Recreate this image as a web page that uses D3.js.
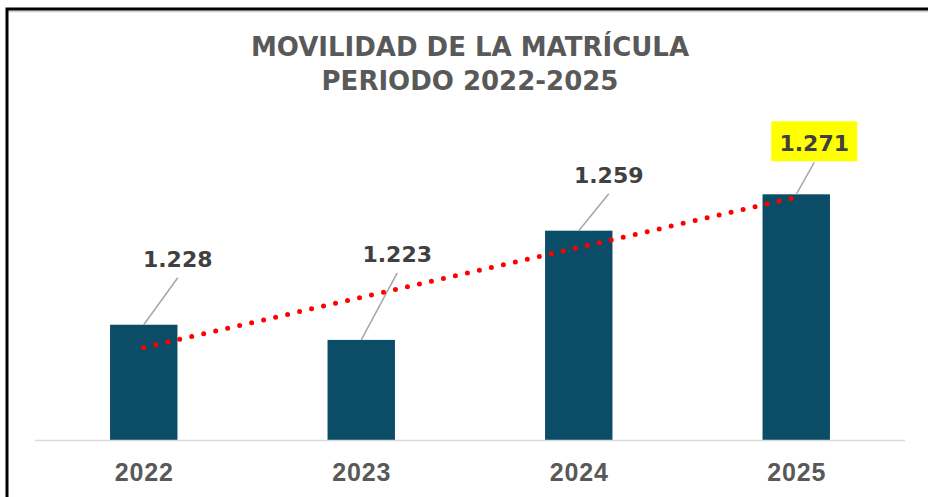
<!DOCTYPE html>
<html>
<head>
<meta charset="utf-8">
<script src="https://cdn.jsdelivr.net/npm/d3@7"></script>
<style>
  body { margin: 0; background: #fff; }
  text { font-family: "Liberation Sans", Arial, sans-serif; font-weight: bold; }
  text.wide { font-family: "DejaVu Sans", Verdana, sans-serif; }
</style>
</head>
<body>
<div id="chartCt"></div>
<script>
// data
const years = ["2022", "2023", "2024", "2025"];
const values = [1228, 1223, 1259, 1271];
const valueLabels = ["1.228", "1.223", "1.259", "1.271"];
const titleLines = ["MOVILIDAD DE LA MATRÍCULA", "PERIODO 2022-2025"];
const highlightYear = "2025";

// label placement, offset from top of each bar (dragged by hand in the original)
const labelOffsets = [[34, -58], [36, -78], [30, -48], [18, -43]];

const width = 928, height = 497;

const svg = d3.select("#chartCt")
    .append("svg")
    .attr("width", width)
    .attr("height", height);

svg.append("rect").attr("width", width).attr("height", height).attr("fill", "#fff");

// frame (only left and top sides are in view)
svg.append("path")
    .attr("d", "M8,11.5H928")
    .attr("stroke", "#d0d0d0")
    .attr("stroke-width", 1.5)
    .attr("fill", "none");
svg.append("path")
    .attr("d", `M7,${height}V9H${width}`)
    .attr("stroke", "#000")
    .attr("stroke-width", 3)
    .attr("fill", "none");

const x = d3.scalePoint()
    .domain(years)
    .range([35, 905])
    .padding(0.5);

const y = d3.scaleLinear()
    .domain([1190, 1280])
    .range([440, 167]);

const barW = x.step() * 0.31;

// title
svg.selectAll("text.title")
    .data(titleLines)
    .enter().append("text")
    .attr("class", "title wide")
    .attr("x", 470)
    .attr("y", (d, i) => 56 + i * 34)
    .attr("text-anchor", "middle")
    .attr("fill", "#595959")
    .style("font-size", "26px")
    .text(d => d);

// bars
svg.selectAll("rect.bar")
    .data(years)
    .enter().append("rect")
    .attr("class", "bar")
    .attr("x", d => x(d) - barW / 2)
    .attr("y", (d, i) => y(values[i]))
    .attr("width", barW)
    .attr("height", (d, i) => y(1190) - y(values[i]))
    .attr("fill", "#0b4d66");

// category axis
svg.append("line")
    .attr("x1", 35).attr("x2", 905)
    .attr("y1", 440.5).attr("y2", 440.5)
    .attr("stroke", "#d9d9d9")
    .attr("stroke-width", 1.5);

svg.selectAll("text.year")
    .data(years)
    .enter().append("text")
    .attr("class", "year")
    .attr("x", d => x(d) + 0.5)
    .attr("y", 481)
    .attr("text-anchor", "middle")
    .attr("fill", "#595959")
    .style("font-size", "25px")
    .style("letter-spacing", "0.8px")
    .text(d => d);

// linear trend line
const idx = values.map((v, i) => i + 1);
const mx = d3.mean(idx), my = d3.mean(values);
const slope = d3.sum(idx, (t, i) => (t - mx) * (values[i] - my)) / d3.sum(idx, t => (t - mx) * (t - mx));
const icpt = my - slope * mx;
const trend = idx.map((t, i) => [x(years[i]), y(icpt + slope * t)]);

// value labels with leader lines
const labels = svg.selectAll("g.lbl")
    .data(years)
    .enter().append("g")
    .attr("class", "lbl");

labels.each(function (d, i) {
    const g = d3.select(this);
    const bx = x(d), by = y(values[i]);
    const lx = bx + labelOffsets[i][0], ly = by + labelOffsets[i][1];
    if (d === highlightYear) {
        g.append("rect")
            .attr("x", lx - 43).attr("y", ly - 30)
            .attr("width", 86).attr("height", 40)
            .attr("fill", "#ffff00");
    }
    g.append("line")
        .attr("x1", lx).attr("y1", ly + 11)
        .attr("x2", bx).attr("y2", by)
        .attr("stroke", "#a6a6a6")
        .attr("stroke-width", 1.5);
    g.append("text")
        .attr("class", "wide")
        .attr("x", lx).attr("y", ly)
        .attr("text-anchor", "middle")
        .attr("fill", "#404040")
        .style("font-size", "22px")
        .text(valueLabels[i]);
});

svg.append("path")
    .attr("d", d3.line()(trend))
    .attr("fill", "none")
    .attr("stroke", "#ff0000")
    .attr("stroke-width", 5)
    .attr("stroke-linecap", "round")
    .attr("stroke-dasharray", "0 12.3");
</script>
</body>
</html>
